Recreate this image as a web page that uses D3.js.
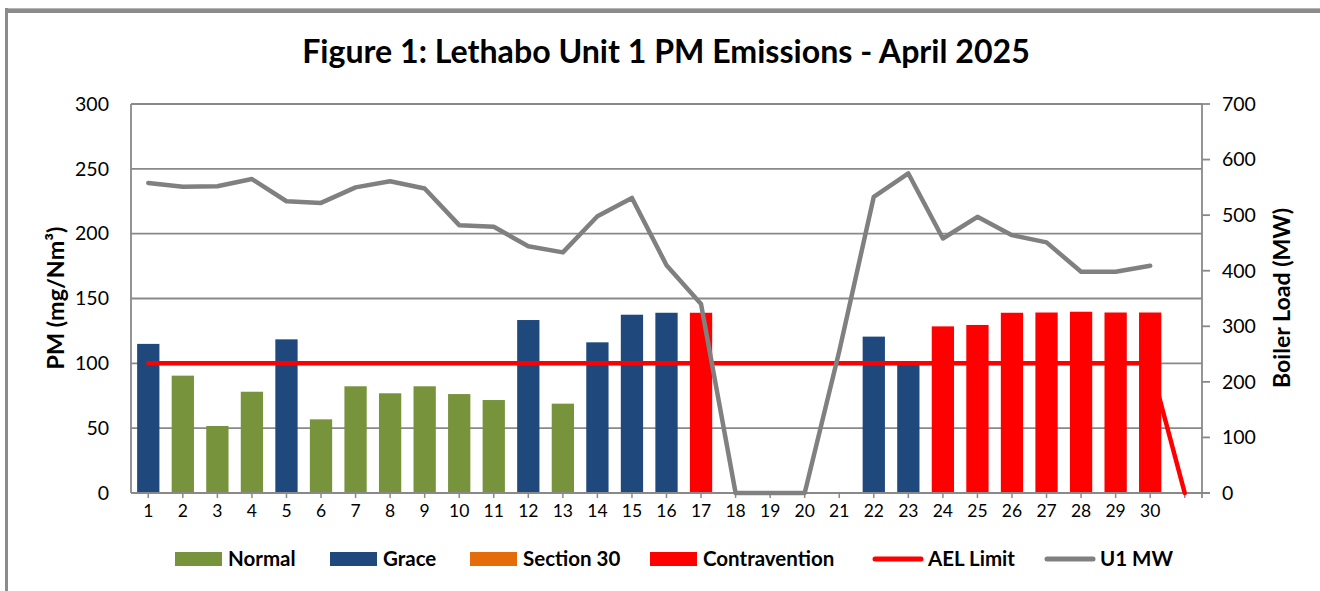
<!DOCTYPE html>
<html>
<head>
<meta charset="utf-8">
<script src="https://cdn.jsdelivr.net/npm/d3@7"></script>
<style>
  html, body { margin: 0; padding: 0; background: #fff; }
  svg { display: block; font-family: Lato, "Open Sans", sans-serif; }
</style>
</head>
<body>
<svg id="chart" width="1320" height="591"></svg>
<script>
// ---------- data ----------
const titleText = "Figure 1: Lethabo Unit 1 PM Emissions - April 2025";
const categories = ["1","2","3","4","5","6","7","8","9","10","11","12","13","14","15","16","17","18","19","20","21","22","23","24","25","26","27","28","29","30"," "];
const pmValues = [115, 90.5, 51.7, 78.1, 118.5, 56.8, 82.3, 76.9, 82.3, 76.3, 71.7, 133.4, 68.9, 116.2, 137.5, 139, 139, null, null, null, null, 120.6, 100, 128.5, 129.6, 139, 139.2, 139.8, 139.2, 139.2];
const pmStatus = ["Grace","Normal","Normal","Normal","Grace","Normal","Normal","Normal","Normal","Normal","Normal","Grace","Normal","Grace","Grace","Grace","Contravention",null,null,null,null,"Grace","Grace","Contravention","Contravention","Contravention","Contravention","Contravention","Contravention","Contravention"];
const aelLimit = [100,100,100,100,100,100,100,100,100,100,100,100,100,100,100,100,100,100,100,100,100,100,100,100,100,100,100,100,100,100,0];
const u1MW = [558, 551, 552, 565, 525, 522, 550, 561, 548, 482, 479, 444, 433, 498, 531, 410, 340, 0, 0, 0, 255, 533, 575, 458, 497, 464, 451, 398, 398, 409];
const leftTicks = [0, 50, 100, 150, 200, 250, 300];
const rightTicks = [0, 100, 200, 300, 400, 500, 600, 700];
const legendItems = [
  { name: "Normal", type: "rect" },
  { name: "Grace", type: "rect" },
  { name: "Section 30", type: "rect" },
  { name: "Contravention", type: "rect" },
  { name: "AEL Limit", type: "line" },
  { name: "U1 MW", type: "line" }
];
const colors = { "Normal": "#77933C", "Grace": "#1F497D", "Section 30": "#E46C0A", "Contravention": "#FF0000", "AEL Limit": "#FF0000", "U1 MW": "#808080" };

// ---------- layout ----------
const svg = d3.select("#chart");
const plot = { left: 131, right: 1202, top: 104, bottom: 493 };
const gridColor = "#898989";

function fit(sel, target) {
  const w = sel.node().getComputedTextLength();
  const fs = parseFloat(sel.attr("font-size"));
  sel.attr("font-size", fs * target / w);
}

// frame
svg.append("rect").attr("x", 5).attr("y", 8).attr("width", 1315).attr("height", 5).attr("fill", "#8c8c8c");
svg.append("rect").attr("x", 5).attr("y", 8).attr("width", 1315).attr("height", 1).attr("fill", "#b4b4b4");
svg.append("rect").attr("x", 5).attr("y", 8).attr("width", 3).attr("height", 583).attr("fill", "#8c8c8c");

// scales
const x = d3.scaleBand().domain(categories).range([plot.left, plot.right]).paddingInner(0).paddingOuter(0);
const yL = d3.scaleLinear().domain([0, 300]).range([plot.bottom, plot.top]);
const yR = d3.scaleLinear().domain([0, 700]).range([plot.bottom, plot.top]);
const cx = c => x(c) + x.bandwidth() / 2;
const barW = x.bandwidth() * 0.645;

// title
const title = svg.append("text")
  .attr("x", 666).attr("y", 63)
  .attr("text-anchor", "middle")
  .attr("font-weight", "bold")
  .attr("font-size", 29)
  .attr("fill", "#000")
  .text(titleText);
fit(title, 728);

// gridlines (left axis)
svg.append("g").selectAll("line").data(leftTicks.filter(t => t > 0)).join("line")
  .attr("x1", plot.left).attr("x2", plot.right)
  .attr("y1", d => yL(d)).attr("y2", d => yL(d))
  .attr("stroke", gridColor).attr("stroke-width", 1.8);

// bars
const barData = categories.slice(0, 30).map((c, i) => ({ c, v: pmValues[i], s: pmStatus[i] })).filter(d => d.v != null);
svg.append("g").selectAll("rect").data(barData).join("rect")
  .attr("x", d => cx(d.c) - barW / 2)
  .attr("width", barW)
  .attr("y", d => yL(d.v))
  .attr("height", d => yL(0) - yL(d.v))
  .attr("fill", d => colors[d.s]);

// axes lines
const axisG = svg.append("g");
axisG.append("line").attr("x1", plot.left).attr("x2", plot.left).attr("y1", plot.top).attr("y2", plot.bottom)
  .attr("stroke", gridColor).attr("stroke-width", 1.8);
axisG.append("line").attr("x1", plot.right).attr("x2", plot.right).attr("y1", plot.top).attr("y2", plot.bottom + 5)
  .attr("stroke", gridColor).attr("stroke-width", 1.8);
axisG.append("line").attr("x1", plot.left).attr("x2", plot.right + 8).attr("y1", plot.bottom).attr("y2", plot.bottom)
  .attr("stroke", gridColor).attr("stroke-width", 1.8);
axisG.selectAll("line.xt").data(categories).join("line").attr("class", "xt")
  .attr("x1", d => cx(d)).attr("x2", d => cx(d))
  .attr("y1", plot.bottom).attr("y2", plot.bottom + 5)
  .attr("stroke", gridColor).attr("stroke-width", 1.5);
axisG.selectAll("line.rt").data(rightTicks).join("line").attr("class", "rt")
  .attr("x1", plot.right).attr("x2", plot.right + 8)
  .attr("y1", d => yR(d)).attr("y2", d => yR(d))
  .attr("stroke", gridColor).attr("stroke-width", 1.8);

// tick labels
svg.append("g").selectAll("text").data(leftTicks).join("text")
  .attr("x", 109).attr("y", d => yL(d))
  .attr("dy", "0.35em").attr("text-anchor", "end")
  .attr("font-size", 19.5).attr("fill", "#000")
  .text(d => d);
svg.append("g").selectAll("text").data(rightTicks).join("text")
  .attr("x", 1222).attr("y", d => yR(d))
  .attr("dy", "0.35em").attr("text-anchor", "start")
  .attr("font-size", 19.5).attr("fill", "#000")
  .text(d => d);
svg.append("g").selectAll("text").data(categories).join("text")
  .attr("x", d => cx(d)).attr("y", 511)
  .attr("dy", "0.35em").attr("text-anchor", "middle")
  .attr("font-size", 17.5).attr("fill", "#000")
  .text(d => d.trim());

// axis titles
const t1 = svg.append("text")
  .attr("transform", "translate(56,298) rotate(-90)")
  .attr("text-anchor", "middle").attr("dy", "0.35em")
  .attr("font-weight", "bold").attr("font-size", 19)
  .text("PM (mg/Nm³)");
fit(t1, 143);
const t2 = svg.append("text")
  .attr("transform", "translate(1282,298) rotate(-90)")
  .attr("text-anchor", "middle").attr("dy", "0.35em")
  .attr("font-weight", "bold").attr("font-size", 19)
  .text("Boiler Load (MW)");
fit(t2, 180);

// lines
const aelLine = d3.line().x((d, i) => cx(categories[i])).y(d => yL(d));
svg.append("path").datum(aelLimit)
  .attr("d", aelLine)
  .attr("fill", "none").attr("stroke", colors["AEL Limit"]).attr("stroke-width", 4.5)
  .attr("stroke-linecap", "round").attr("stroke-linejoin", "round");
const mwLine = d3.line().x((d, i) => cx(categories[i])).y(d => yR(d));
svg.append("path").datum(u1MW)
  .attr("d", mwLine)
  .attr("fill", "none").attr("stroke", colors["U1 MW"]).attr("stroke-width", 4.5)
  .attr("stroke-linecap", "round").attr("stroke-linejoin", "round");

// legend
const legendX = [175, 330, 470, 650, 873, 1045];
const lg = svg.append("g");
legendItems.forEach((it, i) => {
  const g = lg.append("g").attr("transform", `translate(${legendX[i]},559)`);
  if (it.type === "rect") {
    g.append("rect").attr("x", 0).attr("y", -7).attr("width", 47).attr("height", 14).attr("fill", colors[it.name]);
  } else {
    g.append("line").attr("x1", 2).attr("x2", 48).attr("y1", 0).attr("y2", 0)
      .attr("stroke", colors[it.name]).attr("stroke-width", 5).attr("stroke-linecap", "round");
  }
  g.append("text").attr("x", it.type === "rect" ? 53 : 55).attr("y", 0).attr("dy", "0.35em")
    .attr("font-weight", "bold").attr("font-size", 20.5).attr("fill", "#000")
    .text(it.name);
});
</script>
</body>
</html>
